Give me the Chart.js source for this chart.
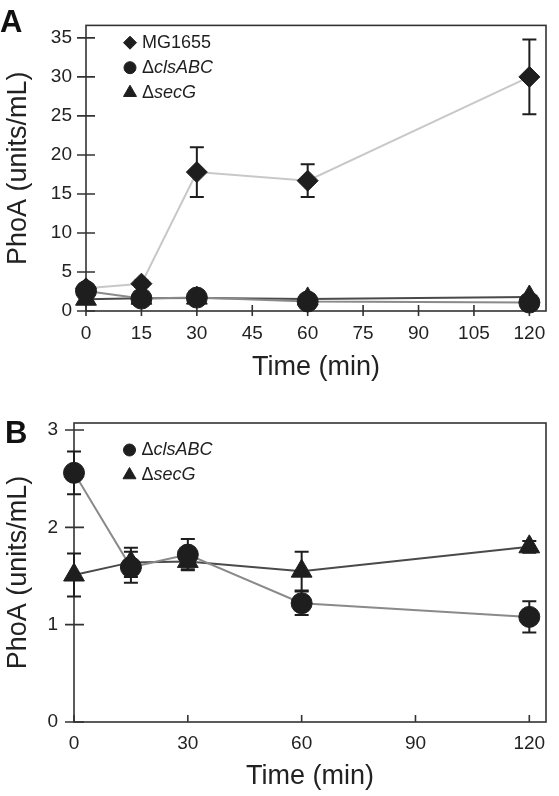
<!DOCTYPE html>
<html>
<head>
<meta charset="utf-8">
<script src="https://cdn.jsdelivr.net/npm/chart.js@4.4.0/dist/chart.umd.min.js"></script>
<style>
  html, body { margin: 0; padding: 0; background: #fff; }
  #wrapA { position: absolute; left: 0; top: 0; width: 559px; height: 390px; }
  #wrapB { position: absolute; left: 0; top: 390px; width: 559px; height: 406px; }
</style>
</head>
<body>
<div id="wrapA"><canvas id="chartA"></canvas></div>
<div id="wrapB"><canvas id="chartB"></canvas></div>
<script>
const FONT = "'Liberation Sans', Arial, Helvetica, sans-serif";
const INK = '#1e1e1e';

// sampling times (min)
const times = [0, 15, 30, 60, 120];

// PhoA activity (units/mL)
const mg1655 = [2.9, 3.5, 17.8, 16.7, 30.0];
const mg1655Err = [0.3, 0.4, 3.2, 2.1, 4.8];
const clsABC = [2.56, 1.59, 1.72, 1.22, 1.08];
const clsABCErr = [0.22, 0.16, 0.16, 0.12, 0.16];
const secG = [1.51, 1.64, 1.65, 1.55, 1.80];
const secGErr = [0.22, 0.15, 0.08, 0.2, 0.06];

const labelMG = 'MG1655';
const labelCls = 'ΔclsABC';
const labelSec = 'ΔsecG';

// axis ticks
const xTicksA = [0, 15, 30, 45, 60, 75, 90, 105, 120];
const yTicksA = [0, 5, 10, 15, 20, 25, 30, 35];
const xTicksB = [0, 30, 60, 90, 120];
const yTicksB = [0, 1, 2, 3];

const toPoints = vals => vals.map((v, i) => ({ x: times[i], y: v }));

// box around the plot area + ticks crossing the axes
const framePlugin = {
  id: 'frame',
  beforeDatasetsDraw(chart, args, opts) {
    const { ctx, chartArea: a, scales: { x, y } } = chart;
    ctx.save();
    ctx.strokeStyle = '#333';
    ctx.lineWidth = 1.6;
    ctx.strokeRect(a.left, a.top, a.right - a.left, a.bottom - a.top);
    ctx.beginPath();
    x.ticks.forEach(t => {
      const px = x.getPixelForValue(t.value);
      ctx.moveTo(px, a.bottom - opts.xIn);
      ctx.lineTo(px, a.bottom + opts.xOut);
    });
    y.ticks.forEach(t => {
      const py = y.getPixelForValue(t.value);
      ctx.moveTo(a.left - opts.yOut, py);
      ctx.lineTo(a.left + opts.yIn, py);
    });
    ctx.stroke();
    ctx.restore();
  }
};

// vertical error bars with caps
const errorBarPlugin = {
  id: 'errorBars',
  beforeDatasetsDraw(chart) {
    const { ctx, scales: { y } } = chart;
    ctx.save();
    ctx.strokeStyle = INK;
    ctx.lineWidth = 2;
    chart.data.datasets.forEach((ds, di) => {
      if (!ds.errorBars) return;
      const meta = chart.getDatasetMeta(di);
      meta.data.forEach((pt, i) => {
        const v = ds.data[i].y, e = ds.errorBars[i];
        const top = y.getPixelForValue(v + e);
        const bot = y.getPixelForValue(v - e);
        ctx.beginPath();
        ctx.moveTo(pt.x, top); ctx.lineTo(pt.x, bot);
        ctx.moveTo(pt.x - 7, top); ctx.lineTo(pt.x + 7, top);
        ctx.moveTo(pt.x - 7, bot); ctx.lineTo(pt.x + 7, bot);
        ctx.stroke();
      });
    });
    ctx.restore();
  }
};

// legend inside the plot, Δ upright and strain name in italics
const keyPlugin = {
  id: 'key',
  afterDraw(chart, args, opts) {
    const ctx = chart.ctx;
    const radius = { rectRot: 6.5, circle: 6, triangle: 7.5 };
    ctx.save();
    chart.data.datasets.forEach((ds, i) => {
      const y = opts.y + i * opts.gap;
      ctx.fillStyle = INK;
      ctx.strokeStyle = INK;
      Chart.helpers.drawPoint(ctx, { pointStyle: ds.pointStyle, radius: radius[ds.pointStyle], rotation: 0, borderWidth: 1 }, opts.x, y);
      ctx.textBaseline = 'middle';
      ctx.textAlign = 'left';
      let tx = opts.x + 12;
      let txt = ds.label;
      if (txt.startsWith('Δ')) {
        ctx.font = '18px ' + FONT;
        ctx.fillText('Δ', tx, y);
        tx += ctx.measureText('Δ').width;
        txt = txt.slice(1);
        ctx.font = 'italic 18px ' + FONT;
      } else {
        ctx.font = '18px ' + FONT;
      }
      ctx.fillText(txt, tx, y);
    });
    ctx.restore();
  }
};

const panelLabelPlugin = {
  id: 'panelLabel',
  afterDraw(chart, args, opts) {
    const ctx = chart.ctx;
    ctx.save();
    ctx.font = 'bold 31px ' + FONT;
    ctx.fillStyle = '#111';
    ctx.textBaseline = 'alphabetic';
    ctx.fillText(opts.text, opts.x, opts.y);
    ctx.restore();
  }
};

function makeDataset(label, vals, errs, style, radius, lineColor, order) {
  return {
    label: label,
    data: toPoints(vals),
    errorBars: errs,
    pointStyle: style,
    pointRadius: radius,
    pointBackgroundColor: INK,
    pointBorderColor: INK,
    pointBorderWidth: 1,
    borderColor: lineColor,
    borderWidth: 2,
    showLine: true,
    fill: false,
    tension: 0,
    clip: false,
    order: order
  };
}

function makeOptions(cfg) {
  return {
    responsive: true,
    maintainAspectRatio: false,
    animation: false,
    layout: { padding: { left: 0, top: cfg.top, right: 2, bottom: 0 } },
    plugins: {
      legend: { display: false },
      tooltip: { enabled: false },
      frame: cfg.frame,
      key: cfg.key,
      panelLabel: cfg.panel
    },
    scales: {
      x: {
        type: 'linear',
        min: 0,
        max: cfg.xMax,
        afterBuildTicks: s => { s.ticks = cfg.xTicks.map(v => ({ value: v })); },
        afterFit: s => { s.height = cfg.xHeight; },
        grid: { display: false, drawTicks: false },
        border: { display: false },
        ticks: { color: '#222', font: { family: FONT, size: 19 }, padding: cfg.xPad, maxRotation: 0 },
        title: { display: true, text: 'Time (min)', color: '#222', font: { family: FONT, size: 27 }, padding: { top: 0, bottom: cfg.xTitlePad } }
      },
      y: {
        type: 'linear',
        min: 0,
        max: cfg.yMax,
        afterBuildTicks: s => { s.ticks = cfg.yTicks.map(v => ({ value: v })); },
        afterFit: s => { s.width = cfg.yWidth; },
        grid: { display: false, drawTicks: false },
        border: { display: false },
        ticks: { color: '#222', font: { family: FONT, size: 19 }, padding: cfg.yPad },
        title: { display: true, text: 'PhoA (units/mL)', color: '#222', font: { family: FONT, size: 27 }, padding: { top: 2, bottom: 0 } }
      }
    }
  };
}

new Chart(document.getElementById('chartA'), {
  type: 'scatter',
  data: {
    datasets: [
      makeDataset(labelMG, mg1655, mg1655Err, 'rectRot', 10.5, '#c8c8c8', 3),
      makeDataset(labelCls, clsABC, clsABCErr, 'circle', 10.5, '#8a8a8a', 1),
      makeDataset(labelSec, secG, secGErr, 'triangle', 12, '#4a4a4a', 2)
    ]
  },
  options: makeOptions({
    top: 13, xMax: 124.5, yMax: 36.6,
    xTicks: xTicksA, yTicks: yTicksA,
    xHeight: 79, yWidth: 86, xPad: 11, yPad: 14, xTitlePad: 6,
    frame: { xIn: 6, xOut: 5, yIn: 9, yOut: 9 },
    key: { x: 130, y: 42.7, gap: 25 },
    panel: { text: 'A', x: 0, y: 32 }
  }),
  plugins: [framePlugin, errorBarPlugin, keyPlugin, panelLabelPlugin]
});

new Chart(document.getElementById('chartB'), {
  type: 'scatter',
  data: {
    datasets: [
      makeDataset(labelCls, clsABC, clsABCErr, 'circle', 10.5, '#8a8a8a', 1),
      makeDataset(labelSec, secG, secGErr, 'triangle', 12, '#4a4a4a', 2)
    ]
  },
  options: makeOptions({
    top: 33, xMax: 124.4, yMax: 3.072,
    xTicks: xTicksB, yTicks: yTicksB,
    xHeight: 74, yWidth: 74, xPad: 10, yPad: 16, xTitlePad: 3,
    frame: { xIn: 7, xOut: 0, yIn: 10, yOut: 9 },
    key: { x: 129.5, y: 60, gap: 25 },
    panel: { text: 'B', x: 5, y: 53 }
  }),
  plugins: [framePlugin, errorBarPlugin, keyPlugin, panelLabelPlugin]
});
</script>
</body>
</html>
